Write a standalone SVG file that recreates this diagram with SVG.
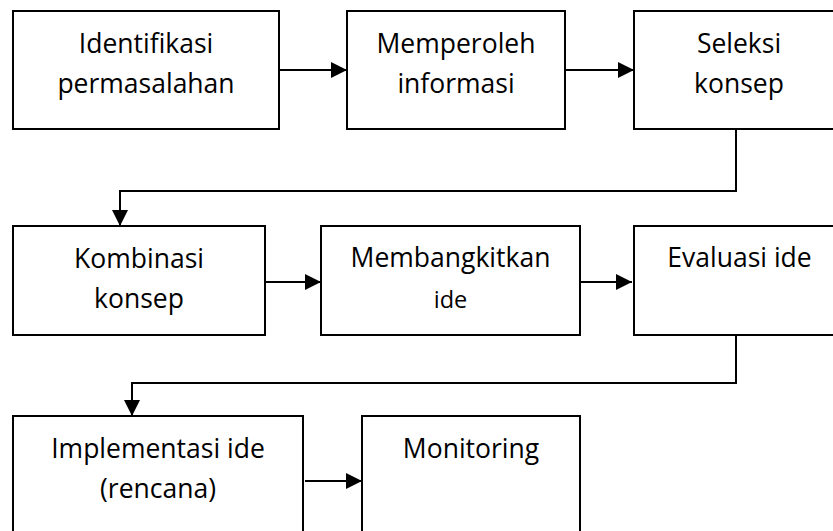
<svg xmlns="http://www.w3.org/2000/svg" width="833" height="531" viewBox="0 0 833 531">
<style>
.box{fill:#fff;stroke:#000;stroke-width:2}
.t{font-family:"Open Sans","Liberation Sans",sans-serif;font-size:26.5px;fill:#000;text-anchor:middle}
.s{font-size:23.5px}
.c{fill:none;stroke:#000;stroke-width:2}
</style>
<defs>
<marker id="ah" markerUnits="userSpaceOnUse" markerWidth="16" markerHeight="16" refX="16" refY="8" orient="auto">
<path d="M0,0 L16,8 L0,16 z" fill="#000"/>
</marker>
</defs>
<rect width="833" height="531" fill="#fff"/>
<g id="n1"><rect class="box" x="13" y="11" width="266" height="118"/><text class="t" x="146" y="53">Identifikasi</text><text class="t" x="146" y="93">permasalahan</text></g>
<g id="n2"><rect class="box" x="347" y="11" width="218" height="118"/><text class="t" x="456" y="53">Memperoleh</text><text class="t" x="456" y="93">informasi</text></g>
<g id="n3"><rect class="box" x="634" y="11" width="210" height="118"/><text class="t" x="739" y="53">Seleksi</text><text class="t" x="739" y="93">konsep</text></g>
<g id="n4"><rect class="box" x="13" y="226" width="252" height="109"/><text class="t" x="139" y="268">Kombinasi</text><text class="t" x="139" y="308">konsep</text></g>
<g id="n5"><rect class="box" x="321" y="226" width="259" height="109"/><text class="t" x="450.5" y="267">Membangkitkan</text><text class="t s" x="450.5" y="308">ide</text></g>
<g id="n6"><rect class="box" x="634" y="226" width="210" height="109"/><text class="t" x="739.5" y="267">Evaluasi ide</text></g>
<g id="n7"><rect class="box" x="13" y="416" width="290" height="130"/><text class="t" x="158" y="458">Implementasi ide</text><text class="t" x="158" y="498">(rencana)</text></g>
<g id="n8"><rect class="box" x="362" y="416" width="218" height="130"/><text class="t" x="471" y="458">Monitoring</text></g>
<g id="connectors">
<line class="c" x1="279" y1="70" x2="347" y2="70" marker-end="url(#ah)"/>
<line class="c" x1="565" y1="70" x2="634" y2="70" marker-end="url(#ah)"/>
<polyline class="c" points="736,129 736,191 120,191 120,226" marker-end="url(#ah)"/>
<line class="c" x1="265" y1="282" x2="321" y2="282" marker-end="url(#ah)"/>
<line class="c" x1="580" y1="282" x2="632" y2="282" marker-end="url(#ah)"/>
<polyline class="c" points="736,335 736,383 132,383 132,416" marker-end="url(#ah)"/>
<line class="c" x1="305" y1="481" x2="362" y2="481" marker-end="url(#ah)"/>
</g>
</svg>
